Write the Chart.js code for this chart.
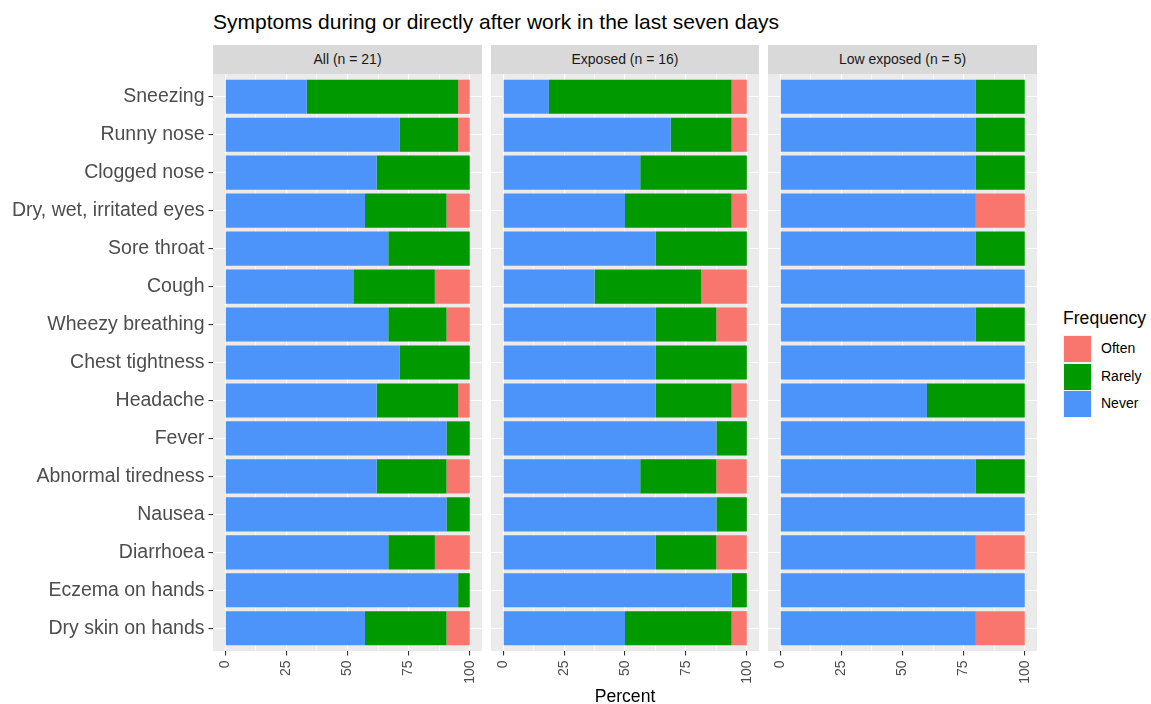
<!DOCTYPE html>
<html><head><meta charset="utf-8">
<script src="https://cdn.jsdelivr.net/npm/chart.js@4/dist/chart.umd.min.js"></script>
<style>
html,body{margin:0;padding:0;background:#fff;}
#wrap{position:relative;width:1151px;height:704px;overflow:hidden;font-family:'Liberation Sans',Arial,sans-serif;background:#fff;}
.strip{position:absolute;top:45px;height:29px;background:#D9D9D9;color:#1A1A1A;font-size:14px;line-height:29px;text-align:center;}
canvas{position:absolute;top:74px;}
.key{position:absolute;left:1063px;width:27px;height:26px;border:0.5px solid #F2F2F2;}
.klab{position:absolute;left:1101px;font-size:14px;line-height:16px;color:#000;}
</style></head>
<body><div id="wrap">
<div style="position:absolute;left:213px;top:10px;font-size:21px;line-height:24px;color:#000;white-space:nowrap;">Symptoms during or directly after work in the last seven days</div>
<div class="strip" style="left:213px;width:269px;">All (n = 21)</div>
<div class="strip" style="left:491px;width:268px;">Exposed (n = 16)</div>
<div class="strip" style="left:768px;width:269px;">Low exposed (n = 5)</div>
<canvas id="c1" width="482" height="630" style="left:0px;"></canvas>
<canvas id="c2" width="268" height="630" style="left:491px;"></canvas>
<canvas id="c3" width="269" height="630" style="left:768px;"></canvas>
<div style="position:absolute;left:213px;width:824px;top:686px;text-align:center;font-size:17.6px;line-height:20px;color:#000;">Percent</div>
<div style="position:absolute;left:1063px;top:308px;font-size:17.6px;line-height:20px;color:#000;">Frequency</div>
<div class="key" style="top:335px;background:#F8766D;"></div>
<div class="key" style="top:362.5px;background:#009900;"></div>
<div class="key" style="top:390px;background:#4C94FA;"></div>
<div class="klab" style="top:340px;">Often</div>
<div class="klab" style="top:367.5px;">Rarely</div>
<div class="klab" style="top:395px;">Never</div>
</div>
<script>
const categories = ["Sneezing","Runny nose","Clogged nose","Dry, wet, irritated eyes","Sore throat","Cough","Wheezy breathing","Chest tightness","Headache","Fever","Abnormal tiredness","Nausea","Diarrhoea","Eczema on hands","Dry skin on hands"];
const xTickValues = [0, 12.5, 25, 37.5, 50, 62.5, 75, 87.5, 100];

// All (n = 21), percent
const allNever  = [33.33, 71.43, 61.90, 57.14, 66.67, 52.38, 66.67, 71.43, 61.90, 90.48, 61.90, 90.48, 66.67, 95.24, 57.14];
const allRarely = [61.90, 23.81, 38.10, 33.33, 33.33, 33.33, 23.81, 28.57, 33.33, 9.52, 28.57, 9.52, 19.05, 4.76, 33.33];
const allOften  = [4.76, 4.76, 0, 9.52, 0, 14.29, 9.52, 0, 4.76, 0, 9.52, 0, 14.29, 0, 9.52];

// Exposed (n = 16), percent
const expNever  = [18.75, 68.75, 56.25, 50, 62.5, 37.5, 62.5, 62.5, 62.5, 87.5, 56.25, 87.5, 62.5, 93.75, 50];
const expRarely = [75, 25, 43.75, 43.75, 37.5, 43.75, 25, 37.5, 31.25, 12.5, 31.25, 12.5, 25, 6.25, 43.75];
const expOften  = [6.25, 6.25, 0, 6.25, 0, 18.75, 12.5, 0, 6.25, 0, 12.5, 0, 12.5, 0, 6.25];

// Low exposed (n = 5), percent
const lowNever  = [80, 80, 80, 80, 80, 100, 80, 100, 60, 100, 80, 100, 80, 100, 80];
const lowRarely = [20, 20, 20, 0, 20, 0, 20, 0, 40, 0, 20, 0, 0, 0, 0];
const lowOften  = [0, 0, 0, 20, 0, 0, 0, 0, 0, 0, 0, 0, 20, 0, 20];

const colNever = '#4C94FA', colRarely = '#009900', colOften = '#F8766D';

Chart.defaults.font.family = "'Liberation Sans', Arial, sans-serif";

const panelBg = {
  id: 'panelBg',
  beforeDraw(chart) {
    const {ctx, chartArea: a} = chart;
    ctx.save();
    ctx.fillStyle = '#EBEBEB';
    ctx.fillRect(a.left, a.top, a.right - a.left, a.bottom - a.top);
    ctx.restore();
  }
};

function isMajor(v) { return Math.abs(v % 25) < 1e-9; }
function zeroPad(s) { s.paddingTop = 0; s.paddingBottom = 0; s.paddingLeft = 0; s.paddingRight = 0; }

function makeChart(id, never, rarely, often, showY) {
  return new Chart(document.getElementById(id), {
    type: 'bar',
    data: {
      labels: categories,
      datasets: [
        {label: 'Never', data: never, backgroundColor: colNever},
        {label: 'Rarely', data: rarely, backgroundColor: colRarely},
        {label: 'Often', data: often, backgroundColor: colOften}
      ]
    },
    options: {
      indexAxis: 'y',
      responsive: false,
      animation: false,
      devicePixelRatio: 1,
      layout: {padding: 0, autoPadding: false},
      datasets: {bar: {categoryPercentage: 0.9, barPercentage: 1, borderWidth: 0}},
      plugins: {legend: {display: false}, tooltip: {enabled: false}, title: {display: false}},
      scales: {
        x: {
          type: 'linear', stacked: true, min: -5, max: 105,
          afterBuildTicks: s => { s.ticks = xTickValues.map(v => ({value: v})); },
          afterFit: s => { s.height = 53; zeroPad(s); },
          border: {display: false},
          grid: {
            color: '#FFFFFF',
            lineWidth: c => (c.tick && isMajor(c.tick.value)) ? 1.1 : 0.55,
            drawTicks: true, tickLength: 4.5,
            tickColor: c => (c.tick && isMajor(c.tick.value)) ? '#333333' : 'rgba(0,0,0,0)',
            tickWidth: 1.1
          },
          ticks: {
            autoSkip: false, minRotation: 90, maxRotation: 90, padding: 5,
            color: '#4D4D4D', font: {size: 14},
            callback: v => isMajor(v) ? String(v) : ''
          }
        },
        y: {
          type: 'category', stacked: true, offset: true,
          afterBuildTicks: s => { s._startValue = -0.6; s._valueRange = categories.length + 0.2; },
          afterFit: s => { s.width = showY ? 213 : 0; zeroPad(s); },
          border: {display: false},
          grid: {
            offset: false, color: '#FFFFFF', lineWidth: 1.1,
            drawTicks: showY, tickLength: 4.5, tickColor: '#333333', tickWidth: 1.1
          },
          ticks: {display: showY, color: '#4D4D4D', font: {size: 19.5}, padding: 4}
        }
      }
    },
    plugins: [panelBg]
  });
}

makeChart('c1', allNever, allRarely, allOften, true);
makeChart('c2', expNever, expRarely, expOften, false);
makeChart('c3', lowNever, lowRarely, lowOften, false);
</script>
</body></html>
